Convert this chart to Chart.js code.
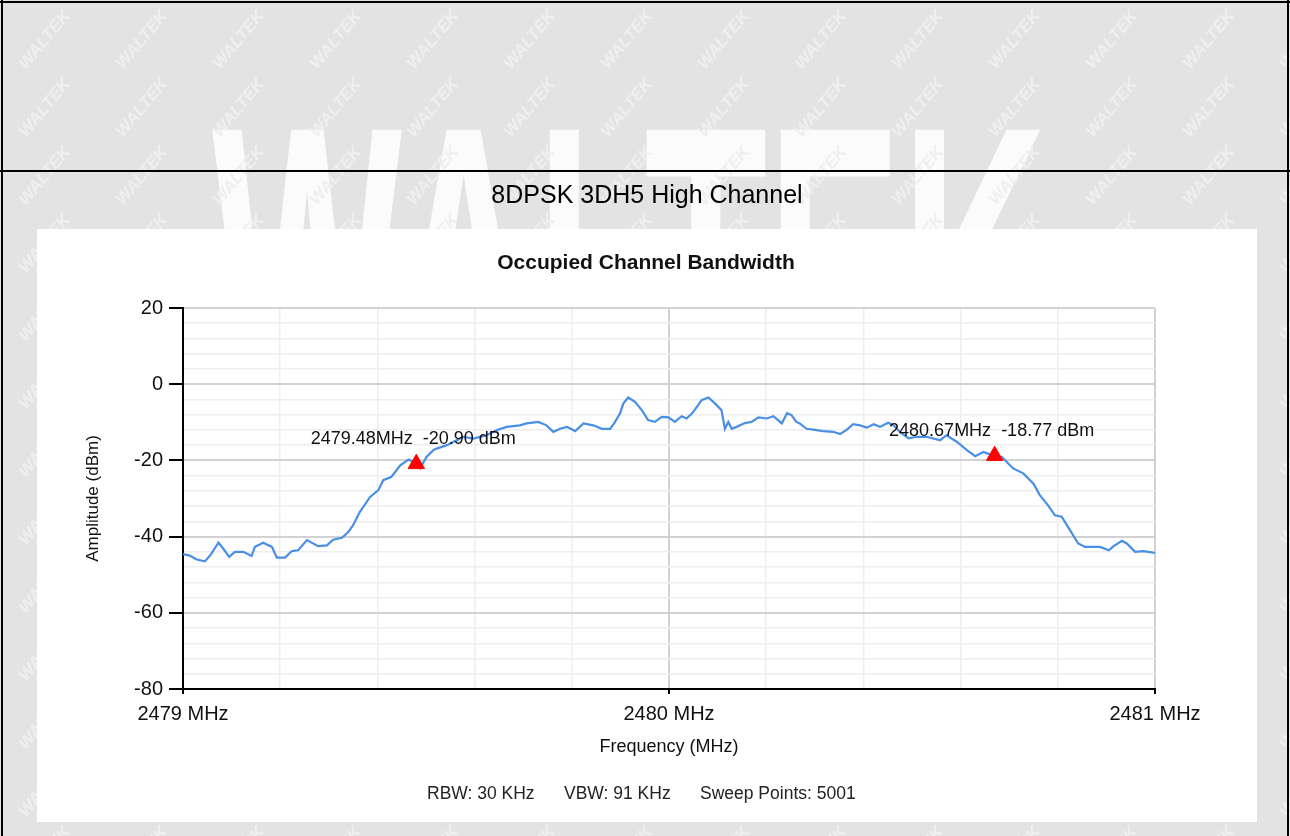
<!DOCTYPE html>
<html><head><meta charset="utf-8">
<script src="https://cdn.jsdelivr.net/npm/chart.js@4.4.1/dist/chart.umd.min.js"></script>
<style>html,body{margin:0;padding:0;background:#e4e4e4;overflow:hidden}canvas{display:block}</style>
</head><body>
<canvas id="c" width="1290" height="836"></canvas>
<script>
// ---------- data ----------
const freqMHz = [
2479.000,2479.014,2479.028,2479.045,2479.056,2479.073,2479.083,2479.095,2479.107,2479.124,
2479.141,2479.148,2479.165,2479.183,2479.193,2479.210,2479.224,2479.237,2479.255,2479.278,
2479.296,2479.309,2479.327,2479.340,2479.350,2479.364,2479.371,2479.385,2479.402,2479.412,
2479.429,2479.447,2479.464,2479.480,2479.488,2479.501,2479.515,2479.522,2479.543,2479.563,
2479.577,2479.597,2479.625,2479.645,2479.666,2479.693,2479.707,2479.731,2479.748,2479.762,
2479.776,2479.790,2479.807,2479.824,2479.844,2479.862,2479.879,2479.889,2479.899,2479.906,
2479.916,2479.930,2479.944,2479.957,2479.971,2479.985,2479.999,2480.012,2480.026,2480.036,
2480.047,2480.057,2480.067,2480.081,2480.095,2480.108,2480.115,2480.122,2480.129,2480.139,
2480.156,2480.170,2480.184,2480.201,2480.215,2480.232,2480.243,2480.252,2480.262,2480.269,
2480.283,2480.297,2480.317,2480.338,2480.352,2480.366,2480.379,2480.393,2480.407,2480.421,
2480.434,2480.451,2480.462,2480.475,2480.493,2480.510,2480.530,2480.558,2480.571,2480.592,
2480.613,2480.630,2480.647,2480.665,2480.685,2480.708,2480.729,2480.750,2480.763,2480.780,
2480.794,2480.808,2480.825,2480.842,2480.856,2480.873,2480.887,2480.905,2480.915,2480.932,
2480.942,2480.959,2480.976,2481.000];
const amplitudeDbm = [
-44.6,-45.0,-46.0,-46.5,-44.9,-41.6,-43.2,-45.3,-44.0,-44.0,
-45.1,-42.7,-41.6,-42.7,-45.5,-45.5,-43.8,-43.6,-40.9,-42.5,
-42.3,-40.8,-40.3,-38.8,-37.0,-33.5,-32.2,-29.6,-27.8,-25.2,
-24.3,-21.3,-19.8,-20.9,-22.1,-19.1,-17.3,-16.9,-16.0,-14.7,
-13.8,-14.3,-13.4,-12.1,-11.2,-10.8,-10.3,-9.9,-10.8,-12.5,
-11.7,-11.2,-12.3,-10.3,-10.8,-11.7,-11.7,-9.9,-7.7,-5.1,
-3.5,-4.6,-6.8,-9.4,-9.9,-8.6,-8.7,-9.9,-8.4,-9.0,
-7.7,-6.0,-4.2,-3.5,-5.1,-6.8,-11.7,-9.9,-11.7,-11.2,
-10.2,-9.9,-8.7,-9.0,-8.4,-10.3,-7.6,-8.1,-9.9,-10.3,
-11.7,-11.9,-12.3,-12.5,-13.1,-11.9,-10.5,-10.8,-11.4,-10.5,
-11.2,-10.1,-10.8,-12.5,-14.2,-13.8,-13.8,-14.7,-13.4,-15.1,
-17.3,-18.9,-17.8,-18.6,-19.1,-22.1,-23.4,-26.1,-29.1,-31.8,
-34.4,-34.8,-38.3,-41.8,-42.7,-42.7,-42.7,-43.6,-42.5,-41.1,
-41.8,-44.0,-43.8,-44.3];
const markerFreqMHz = [2479.48, 2480.67];
const markerAmpDbm = [-20.90, -18.77];
const markerLabels = ['2479.48MHz  -20.90 dBm', '2480.67MHz  -18.77 dBm'];
const xTickLabels = ['2479 MHz', '2480 MHz', '2481 MHz'];
const xTickValues = [2479, 2480, 2481];
const yTickValues = [20, 0, -20, -40, -60, -80];
const headerTitle = '8DPSK 3DH5 High Channel';
const chartTitle = 'Occupied Channel Bandwidth';
const xAxisTitle = 'Frequency (MHz)';
const yAxisTitle = 'Amplitude (dBm)';
const footerItems = ['RBW: 30 KHz', 'VBW: 91 KHz', 'Sweep Points: 5001'];
const watermarkText = 'WALTEK';

// ---------- chart ----------
const FONT = '"Liberation Sans", Arial, Helvetica, sans-serif';
Chart.defaults.font.family = FONT;

const tracePoints = freqMHz.map((f, i) => ({x: f, y: amplitudeDbm[i]}));
const markerPoints = markerFreqMHz.map((f, i) => ({x: f, y: markerAmpDbm[i]}));

const isWhole = v => Math.abs(v - Math.round(v)) < 1e-6;

const pagePlugin = {
  id: 'page',
  beforeDraw(chart) {
    const ctx = chart.ctx, W = chart.width, H = chart.height;
    ctx.save();
    ctx.fillStyle = '#e3e3e3';
    ctx.fillRect(0, 0, W, H);
    // big watermark
    ctx.save();
    ctx.fillStyle = '#fbfbfb';
    ctx.font = 'bold 420px ' + FONT;
    ctx.textBaseline = 'alphabetic';
    const bw = ctx.measureText(watermarkText).width;
    ctx.translate(212, 118 + 420 * 0.716);
    ctx.scale(835 / bw, 1);
    ctx.fillText(watermarkText, 0, 0);
    ctx.restore();
    // small tiled watermark
    ctx.fillStyle = '#efefef';
    ctx.font = 'italic bold 17px ' + FONT;
    ctx.textAlign = 'center';
    ctx.textBaseline = 'middle';
    for (let y = 40; y < H + 60; y += 68) {
      for (let x = 45; x < W + 60; x += 97) {
        ctx.save();
        ctx.translate(x, y);
        ctx.rotate(-50 * Math.PI / 180);
        ctx.fillText(watermarkText, 0, 0);
        ctx.restore();
      }
    }
    // frame lines
    ctx.fillStyle = '#000';
    ctx.fillRect(0, 1, W, 2);
    ctx.fillRect(0, 170, W, 2);
    ctx.fillRect(1, 0, 2, H);
    ctx.fillRect(W - 3, 0, 2, H);
    // white chart box
    ctx.fillStyle = '#ffffff';
    ctx.fillRect(37, 229, 1220, 593);
    // header
    ctx.fillStyle = '#000';
    ctx.textAlign = 'center';
    ctx.textBaseline = 'middle';
    ctx.font = '25px ' + FONT;
    ctx.fillText(headerTitle, 647, 196);
    ctx.font = 'bold 21px ' + FONT;
    ctx.fillStyle = '#111';
    ctx.fillText(chartTitle, 646, 263);
    // footer
    ctx.font = '17.5px ' + FONT;
    ctx.textAlign = 'left';
    ctx.fillStyle = '#222';
    const fx = [427, 564, 700];
    footerItems.forEach((t, i) => ctx.fillText(t, fx[i], 794));
    ctx.restore();
  },
  afterDatasetsDraw(chart) {
    const ctx = chart.ctx, xs = chart.scales.x, ys = chart.scales.y;
    ctx.save();
    ctx.font = '18px ' + FONT;
    ctx.fillStyle = '#111';
    ctx.textAlign = 'center';
    ctx.textBaseline = 'middle';
    markerFreqMHz.forEach((f, i) => {
      const px = xs.getPixelForValue(f), py = ys.getPixelForValue(markerAmpDbm[i]);
      ctx.fillText(markerLabels[i], px - 3, py - 25);
    });
    ctx.restore();
  }
};

new Chart(document.getElementById('c'), {
  type: 'scatter',
  data: {
    datasets: [
      {
        label: 'Markers',
        data: markerPoints,
        order: 0,
        pointStyle: 'triangle',
        pointRadius: 9.5,
        pointHoverRadius: 9.5,
        backgroundColor: '#ff0000',
        borderColor: '#ff0000',
        borderWidth: 1,
        showLine: false
      },
      {
        label: 'Trace',
        data: tracePoints,
        order: 1,
        showLine: true,
        borderColor: '#4a8fe6',
        borderWidth: 2.2,
        pointRadius: 0,
        pointHoverRadius: 0,
        tension: 0,
        fill: false
      }
    ]
  },
  options: {
    responsive: false,
    animation: false,
    devicePixelRatio: 1,
    events: [],
    layout: { padding: { left: 37, right: 135, top: 308, bottom: 14 } },
    plugins: { legend: { display: false }, tooltip: { enabled: false }, title: { display: false } },
    scales: {
      x: {
        type: 'linear',
        min: 2479, max: 2481,
        afterFit(scale) { scale.height = 133; },
        border: { display: true, color: '#000', width: 2 },
        grid: {
          color: c => isWhole(c.tick.value) ? '#d2d2d2' : '#eeeeee',
          lineWidth: c => isWhole(c.tick.value) ? 2 : 1.5,
          tickColor: c => isWhole(c.tick.value) ? '#000' : 'rgba(0,0,0,0)',
          tickLength: 5,
          tickWidth: 2
        },
        ticks: {
          stepSize: 0.2,
          autoSkip: false,
          maxRotation: 0,
          padding: 8,
          color: '#111',
          font: { size: 20, lineHeight: 1.2 },
          callback: v => {
            const idx = xTickValues.findIndex(t => Math.abs(t - v) < 1e-6);
            return idx >= 0 ? xTickLabels[idx] : '';
          }
        },
        title: {
          display: true,
          text: xAxisTitle,
          color: '#111',
          font: { size: 18, lineHeight: 1.2 },
          padding: { top: 0, bottom: 64 }
        }
      },
      y: {
        type: 'linear',
        min: -80, max: 20,
        afterFit(scale) { scale.width = 146; },
        border: { display: true, color: '#000', width: 2 },
        grid: {
          color: c => (c.tick.value % 20 === 0) ? '#d2d2d2' : '#eeeeee',
          lineWidth: c => (c.tick.value % 20 === 0) ? 2 : 1.5,
          tickColor: c => (c.tick.value % 20 === 0) ? '#000' : 'rgba(0,0,0,0)',
          tickLength: 14,
          tickWidth: 2
        },
        ticks: {
          stepSize: 4,
          autoSkip: false,
          padding: 6,
          color: '#111',
          font: { size: 20, lineHeight: 1.2 },
          callback: v => yTickValues.includes(v) ? String(v) : ''
        },
        title: {
          display: true,
          text: yAxisTitle,
          color: '#111',
          font: { size: 17, lineHeight: 1.2 },
          padding: { top: 46, bottom: 0 }
        }
      }
    }
  },
  plugins: [pagePlugin]
});
</script>
</body></html>
